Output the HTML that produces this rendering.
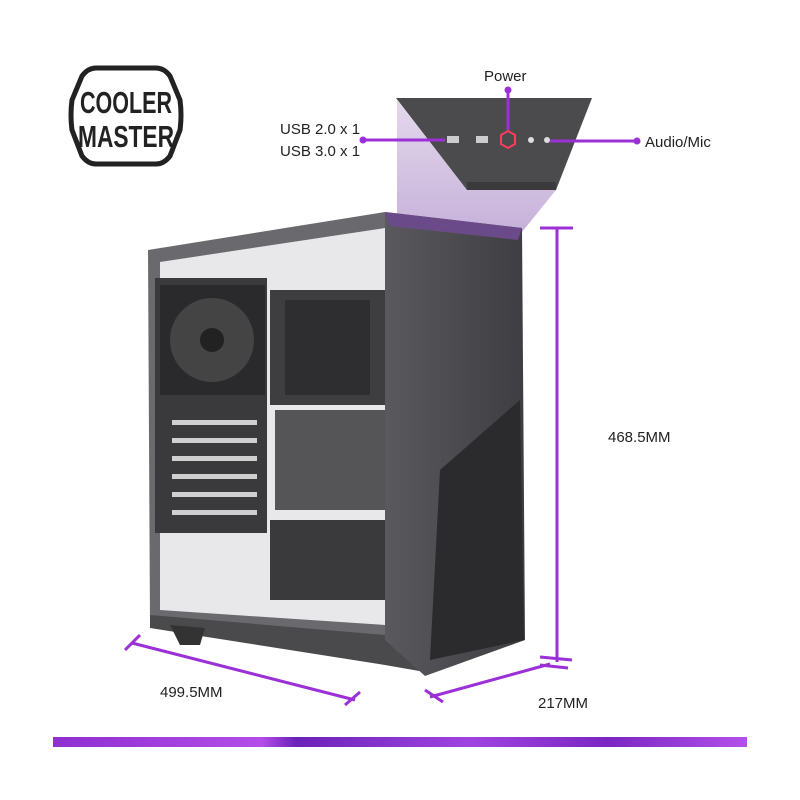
<!DOCTYPE html>
<html><head><meta charset="utf-8"><style>
html,body{margin:0;padding:0;background:#fff;}
svg{display:block;}
text{font-family:"Liberation Sans",sans-serif;}
</style></head><body>
<svg width="800" height="800" viewBox="0 0 800 800" xmlns="http://www.w3.org/2000/svg">
<defs>
<linearGradient id="bar" x1="0" x2="1" y1="0" y2="0">
<stop offset="0" stop-color="#8e2fd0"/><stop offset="0.3" stop-color="#b44de8"/><stop offset="0.35" stop-color="#6a22b8"/><stop offset="0.6" stop-color="#a043e0"/><stop offset="0.8" stop-color="#7a26c2"/><stop offset="1" stop-color="#b450ea"/>
</linearGradient>
<linearGradient id="beam" x1="0" y1="0" x2="0" y2="1">
<stop offset="0" stop-color="#e3d8ec"/><stop offset="1" stop-color="#c7b2da"/>
</linearGradient>
<linearGradient id="front" x1="0" y1="0" x2="1" y2="0">
<stop offset="0" stop-color="#5a5a5e"/><stop offset="1" stop-color="#3e3e42"/>
</linearGradient>
</defs>
<!-- logo -->
<path d="M96,68 L156,68 Q164,68 170,76 L180,100 Q182,115 180,130 L170,156 Q164,164 156,164 L96,164 Q88,164 82,156 L72,130 Q70,115 72,100 L82,76 Q88,68 96,68 Z" fill="none" stroke="#222" stroke-width="5"/>
<text x="126" y="113" font-size="31" font-weight="bold" text-anchor="middle" fill="#222" textLength="92" lengthAdjust="spacingAndGlyphs">COOLER</text>
<text x="126" y="147" font-size="31" font-weight="bold" text-anchor="middle" fill="#222" textLength="96" lengthAdjust="spacingAndGlyphs">MASTER</text>
<!-- beam -->
<polygon points="397,100 467,190 556,190 522,232 397,222" fill="url(#beam)"/>
<!-- top panel -->
<polygon points="396,98 592,98 556,190 467,190" fill="#4b4b4e"/>
<polygon points="467,182 556,182 556,190 467,190" fill="#3a3a3c"/>
<rect x="447" y="136" width="12" height="7" fill="#ccc"/>
<rect x="476" y="136" width="12" height="7" fill="#ccc"/>
<polygon points="508,131 515,135 515,144 508,148 501,144 501,135" fill="none" stroke="#ff3a5a" stroke-width="2"/>
<circle cx="531" cy="140" r="3" fill="#ddd"/><circle cx="547" cy="140" r="3" fill="#ddd"/>
<!-- case interior/side -->
<polygon points="148,250 385,212 385,640 150,625" fill="#6a6a6e"/>
<polygon points="160,262 385,228 385,625 160,610" fill="#e8e8ea"/>
<rect x="155" y="278" width="112" height="255" fill="#3a3a3c"/>
<rect x="160" y="285" width="105" height="110" fill="#2a2a2c"/>
<circle cx="212" cy="340" r="42" fill="#444"/><circle cx="212" cy="340" r="12" fill="#222"/>
<rect x="270" y="290" width="115" height="115" fill="#3e3e40"/>
<rect x="285" y="300" width="85" height="95" fill="#2e2e30"/>
<rect x="275" y="410" width="110" height="100" fill="#555558"/>
<rect x="270" y="520" width="115" height="80" fill="#3a3a3c"/>
<g fill="#cfcfcf"><rect x="172" y="420" width="85" height="5"/><rect x="172" y="438" width="85" height="5"/><rect x="172" y="456" width="85" height="5"/><rect x="172" y="474" width="85" height="5"/><rect x="172" y="492" width="85" height="5"/><rect x="172" y="510" width="85" height="5"/></g>
<polygon points="150,615 385,635 425,672 385,665 150,628" fill="#4a4a4d"/>
<polygon points="170,625 205,628 200,645 180,645" fill="#333"/>
<!-- front -->
<polygon points="385,212 522,228 525,640 425,676 385,640" fill="url(#front)"/>
<polygon points="385,212 522,228 518,240 390,226" fill="#6b4a8a"/>
<polygon points="440,470 520,400 524,640 430,660" fill="#2b2b2e"/>
<!-- dimension lines -->
<g stroke="#9b30d6" stroke-width="3" fill="none">
<line x1="557" y1="228" x2="557" y2="662"/>
<line x1="540" y1="228" x2="573" y2="228"/>
<line x1="540" y1="657" x2="572" y2="660"/>
<line x1="132" y1="643" x2="355" y2="700"/>
<line x1="125" y1="650" x2="140" y2="635"/>
<line x1="345" y1="705" x2="360" y2="692"/>
<line x1="430" y1="697" x2="550" y2="664"/>
<line x1="425" y1="690" x2="443" y2="702"/>
<line x1="540" y1="665" x2="568" y2="668"/>
<line x1="508" y1="90" x2="508" y2="130"/>
<line x1="363" y1="140" x2="445" y2="140"/>
<line x1="550" y1="141" x2="637" y2="141"/>
</g>
<g fill="#9b30d6"><circle cx="508" cy="90" r="3.5"/><circle cx="363" cy="140" r="3.5"/><circle cx="637" cy="141" r="3.5"/></g>
<!-- labels -->
<g fill="#222" font-size="15">
<text x="484" y="81">Power</text>
<text x="280" y="134">USB 2.0 x 1</text>
<text x="280" y="156">USB 3.0 x 1</text>
<text x="645" y="147">Audio/Mic</text>
<text x="608" y="442">468.5MM</text>
<text x="160" y="697">499.5MM</text>
<text x="538" y="708">217MM</text>
</g>
<rect x="53" y="737" width="694" height="10" fill="url(#bar)"/>
</svg>
</body></html>
